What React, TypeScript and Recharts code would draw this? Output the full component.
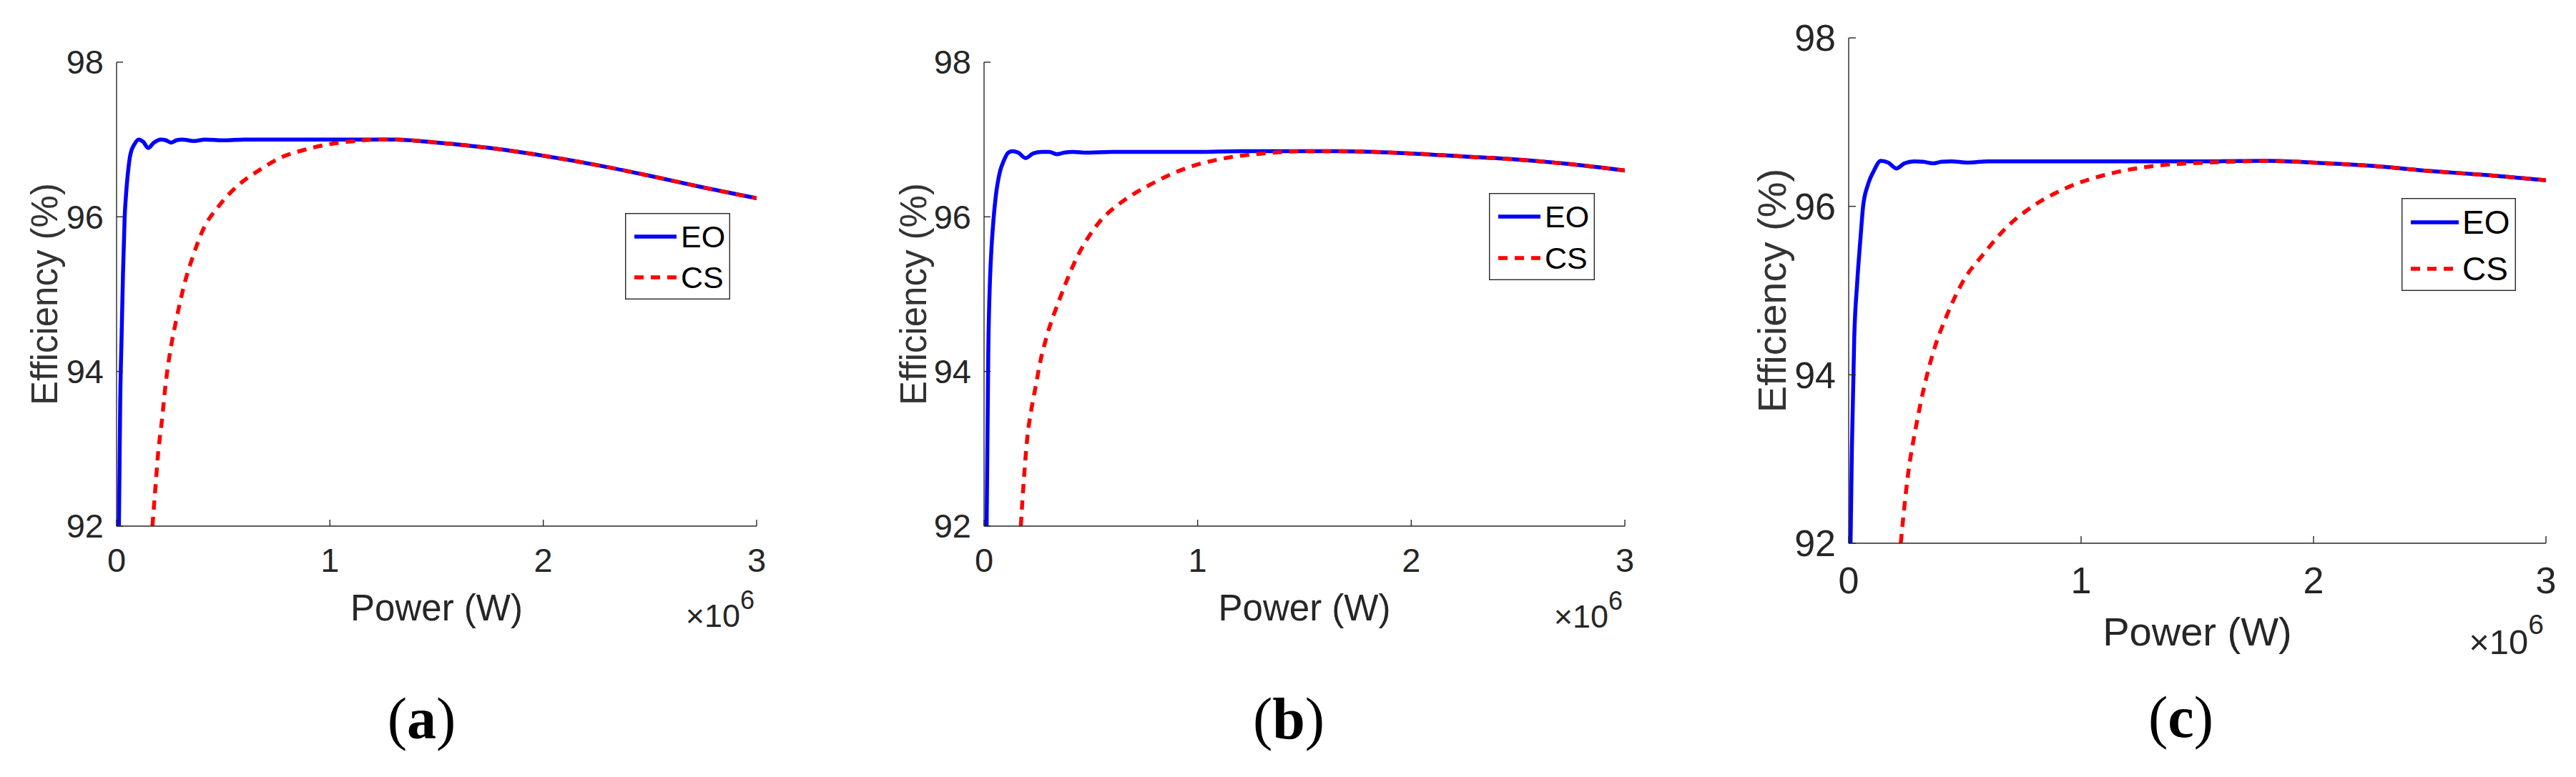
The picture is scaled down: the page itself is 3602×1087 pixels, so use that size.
import React from 'react';
import { LineChart, Line, XAxis, YAxis, Legend, Label } from 'recharts';

// Power in units of 10^6 W, efficiency in %
const eoPowerA = [0.011, 0.017, 0.024, 0.03, 0.038, 0.045, 0.056, 0.065, 0.084, 0.104, 0.125, 0.148, 0.175, 0.207, 0.232, 0.255, 0.28, 0.308, 0.336, 0.364, 0.414, 0.5, 0.6, 0.8, 1.0, 1.2, 1.3, 1.5, 1.75, 2.0, 2.25, 2.5, 2.75, 3.0];
const eoEffA = [92.0, 93.6, 94.5, 95.26, 96.0, 96.31, 96.64, 96.81, 96.94, 97.0, 96.97, 96.89, 96.96, 97.0, 96.99, 96.96, 96.99, 97.0, 96.99, 96.98, 97.0, 96.99, 97.0, 97.0, 97.0, 97.0, 97.0, 96.96, 96.89, 96.79, 96.67, 96.53, 96.38, 96.24];
const csPowerA = [0.168, 0.181, 0.194, 0.213, 0.23, 0.252, 0.28, 0.314, 0.358, 0.403, 0.482, 0.571, 0.672, 0.773, 0.885, 0.997, 1.12, 1.22, 1.3, 1.5, 1.75, 2.0, 2.25, 2.5, 2.75, 3.0];
const csEffA = [92.0, 92.46, 92.92, 93.38, 93.84, 94.27, 94.67, 95.09, 95.49, 95.82, 96.15, 96.41, 96.61, 96.77, 96.87, 96.94, 96.98, 97.0, 97.0, 96.96, 96.89, 96.79, 96.67, 96.53, 96.38, 96.24];

const eoPowerB = [0.012, 0.02, 0.028, 0.036, 0.044, 0.055, 0.074, 0.093, 0.113, 0.131, 0.16, 0.195, 0.23, 0.27, 0.305, 0.34, 0.375, 0.415, 0.48, 0.6, 0.8, 1.0, 1.2, 1.4, 1.65, 2.0, 2.25, 2.5, 2.75, 3.0];
const eoEffB = [92.0, 94.3, 95.2, 95.65, 95.96, 96.27, 96.58, 96.73, 96.83, 96.85, 96.83, 96.76, 96.82, 96.84, 96.84, 96.81, 96.83, 96.84, 96.83, 96.84, 96.84, 96.84, 96.85, 96.85, 96.85, 96.82, 96.78, 96.74, 96.68, 96.6];
const csPowerB = [0.172, 0.185, 0.203, 0.221, 0.241, 0.265, 0.292, 0.357, 0.434, 0.536, 0.639, 0.767, 0.947, 1.152, 1.357, 1.5, 1.65, 2.0, 2.25, 2.5, 2.75, 3.0];
const csEffB = [92.0, 92.55, 93.16, 93.5, 93.8, 94.15, 94.44, 94.96, 95.47, 95.92, 96.18, 96.4, 96.63, 96.77, 96.83, 96.85, 96.85, 96.82, 96.78, 96.74, 96.68, 96.6];

const eoPowerC = [0.008, 0.014, 0.024, 0.036, 0.051, 0.062, 0.082, 0.108, 0.138, 0.17, 0.205, 0.24, 0.282, 0.32, 0.364, 0.4, 0.44, 0.513, 0.6, 0.8, 1.0, 1.3, 1.6, 1.8, 2.0, 2.25, 2.5, 2.75, 3.0];
const eoEffC = [92.0, 93.16, 94.45, 95.07, 95.63, 96.0, 96.25, 96.42, 96.54, 96.52, 96.45, 96.51, 96.535, 96.53, 96.51, 96.53, 96.535, 96.52, 96.535, 96.535, 96.535, 96.535, 96.535, 96.54, 96.52, 96.48, 96.42, 96.37, 96.31];
const csPowerC = [0.224, 0.255, 0.29, 0.325, 0.372, 0.42, 0.49, 0.585, 0.679, 0.797, 0.938, 1.127, 1.316, 1.551, 1.7, 1.8, 2.0, 2.25, 2.5, 2.75, 3.0];
const csEffC = [92.0, 92.81, 93.39, 93.86, 94.34, 94.69, 95.1, 95.45, 95.75, 96.01, 96.22, 96.39, 96.48, 96.52, 96.535, 96.54, 96.52, 96.48, 96.42, 96.37, 96.31];

const powerTicks = [0, 1, 2, 3];
const effTicks = [92, 94, 96, 98];
const seriesNames = ['EO', 'CS'];
const seriesColors = ['#0000ff', '#ff0000'];
const seriesDash = [undefined, '13 10'];

const INK = '#262626';
const SANS = '"Liberation Sans", Arial, Helvetica, sans-serif';
const SERIF = '"Liberation Serif", "Times New Roman", serif';
const CHART_H = 1087;
const LINE_W = 5.5;

function zip(p: number[], e: number[]) {
  return p.map((x, i) => ({ p: x, e: e[i] }));
}

interface LegendBox {
  left: number; top: number; w: number; h: number;
  lineX1: number; lineX2: number; textX: number; rows: number[]; font: number;
}

interface Panel {
  letter: string;
  eo: { p: number; e: number }[];
  cs: { p: number; e: number }[];
  left: number; width: number; top: number;
  plotLeft: number; plotRight: number; bottom: number;
  tickFont: number; titleFont: number; expFont: number; supFont: number; supDy: number;
  tickLen: number; yTitleOff: number; xTitleDy: number; expDy: number; xTickDy: number;
  legend: LegendBox;
  captionDx: number; captionY: number;
}

const panels: Panel[] = [
  {
    letter: 'a', eo: zip(eoPowerA, eoEffA), cs: zip(csPowerA, csEffA),
    left: 0, width: 1200, top: 87, plotLeft: 163, plotRight: 1058, bottom: 736,
    tickFont: 47, titleFont: 51, expFont: 45, supFont: 36, supDy: -25,
    tickLen: 9, yTitleOff: 101, xTitleDy: 132, expDy: 141, xTickDy: 64,
    legend: { left: 874, top: 298, w: 147, h: 121, lineX1: 13, lineX2: 72, textX: 78, rows: [33, 90], font: 43 },
    captionDx: -21, captionY: 1033,
  },
  {
    letter: 'b', eo: zip(eoPowerB, eoEffB), cs: zip(csPowerB, csEffB),
    left: 1200, width: 1200, top: 87, plotLeft: 176, plotRight: 1072, bottom: 736,
    tickFont: 47, titleFont: 51, expFont: 45, supFont: 36, supDy: -25,
    tickLen: 9, yTitleOff: 99, xTitleDy: 132, expDy: 142, xTickDy: 64,
    legend: { left: 882, top: 270, w: 148, h: 122, lineX1: 13, lineX2: 72, textX: 78, rows: [33, 91], font: 43 },
    captionDx: -22, captionY: 1033,
  },
  {
    letter: 'c', eo: zip(eoPowerC, eoEffC), cs: zip(csPowerC, csEffC),
    left: 2400, width: 1202, top: 53, plotLeft: 185, plotRight: 1160, bottom: 760,
    tickFont: 52, titleFont: 56, expFont: 49, supFont: 39, supDy: -28,
    tickLen: 10, yTitleOff: 108, xTitleDy: 143, expDy: 155, xTickDy: 70,
    legend: { left: 958, top: 277, w: 160, h: 130, lineX1: 13, lineX2: 80, textX: 85, rows: [34, 99], font: 46 },
    captionDx: -23, captionY: 1031,
  },
];

function EfficiencyPanel({ panel }: { panel: Panel }) {
  const lg = panel.legend;

  const yTick = (props: any) => (
    <g>
      <line x1={props.x} x2={props.x + panel.tickLen} y1={props.y} y2={props.y} stroke={INK} strokeWidth={1.4} />
      <text x={props.x - 18} y={props.y} dy="0.35em" textAnchor="end" fontFamily={SANS} fontSize={panel.tickFont} fill={INK}>
        {props.payload.value}
      </text>
    </g>
  );

  const xTick = (props: any) => (
    <g>
      <line x1={props.x} x2={props.x} y1={props.y} y2={props.y - panel.tickLen} stroke={INK} strokeWidth={1.4} />
      <text x={props.x} y={props.y + panel.xTickDy} textAnchor="middle" fontFamily={SANS} fontSize={panel.tickFont} fill={INK}>
        {props.payload.value}
      </text>
    </g>
  );

  const xTitle = (props: any) => {
    const vb = props.viewBox;
    const cx = vb.x + vb.width / 2;
    const right = vb.x + vb.width;
    return (
      <g>
        <text x={cx} y={vb.y + panel.xTitleDy} textAnchor="middle" fontFamily={SANS} fontSize={panel.titleFont} fill={INK}>
          Power (W)
        </text>
        <text x={right - 3} y={vb.y + panel.expDy} textAnchor="end" fontFamily={SANS} fontSize={panel.expFont} fill={INK}>
          ×10<tspan dy={panel.supDy} fontSize={panel.supFont}>6</tspan>
        </text>
        <text x={cx + panel.captionDx} y={panel.captionY} textAnchor="middle" fontFamily={SERIF} fontSize={82} fill="#000">
          (<tspan fontWeight="bold">{panel.letter}</tspan>)
        </text>
      </g>
    );
  };

  const yTitle = (props: any) => {
    const vb = props.viewBox;
    const cx = vb.x + vb.width - panel.yTitleOff;
    const cy = vb.y + vb.height / 2;
    return (
      <text x={cx} y={cy} dy="0.35em" transform={`rotate(-90, ${cx}, ${cy})`} textAnchor="middle" fontFamily={SANS} fontSize={panel.titleFont} fill="#333">
        Efficiency (%)
      </text>
    );
  };

  // keep the legend in plot order (EO, CS) whatever order recharts hands over
  const legendContent = (props: any) => {
    const payload = [...(props.payload || [])].sort(
      (a: any, b: any) => seriesNames.indexOf(a.value) - seriesNames.indexOf(b.value),
    );
    return (
      <svg width={lg.w} height={lg.h} style={{ display: 'block' }}>
        <rect x={0.7} y={0.7} width={lg.w - 1.4} height={lg.h - 1.4} fill="#fff" stroke={INK} strokeWidth={1.4} />
        {payload.map((entry: any, i: number) => {
          const idx = seriesNames.indexOf(entry.value);
          const y = lg.rows[i];
          return (
            <g key={entry.value}>
              <line x1={lg.lineX1} x2={lg.lineX2} y1={y} y2={y} stroke={seriesColors[idx]} strokeWidth={LINE_W} strokeDasharray={seriesDash[idx]} />
              <text x={lg.textX} y={y} dy="0.35em" fontFamily={SANS} fontSize={lg.font} fill="#000">
                {entry.value}
              </text>
            </g>
          );
        })}
      </svg>
    );
  };

  return (
    <div style={{ position: 'absolute', left: panel.left, top: 0, width: panel.width, height: CHART_H }}>
      <LineChart
        width={panel.width}
        height={CHART_H}
        margin={{ top: panel.top, right: panel.width - panel.plotRight, bottom: 0, left: 0 }}
      >
        <XAxis
          dataKey="p"
          type="number"
          domain={[0, 3]}
          ticks={powerTicks}
          allowDataOverflow
          height={CHART_H - panel.bottom}
          tickSize={0}
          tickMargin={0}
          tick={xTick}
          axisLine={{ stroke: INK, strokeWidth: 1.4 }}
          interval={0}
        >
          <Label content={xTitle} />
        </XAxis>
        <YAxis
          type="number"
          domain={[92, 98]}
          ticks={effTicks}
          allowDataOverflow
          width={panel.plotLeft}
          tickSize={0}
          tickMargin={0}
          tick={yTick}
          axisLine={{ stroke: INK, strokeWidth: 1.4 }}
          interval={0}
        >
          <Label content={yTitle} />
        </YAxis>
        <Legend
          layout="vertical"
          align="center"
          verticalAlign="middle"
          content={legendContent}
          wrapperStyle={{ position: 'absolute', left: lg.left, top: lg.top, width: lg.w, height: lg.h }}
        />
        <Line
          data={panel.eo}
          dataKey="e"
          name={seriesNames[0]}
          type="monotone"
          stroke={seriesColors[0]}
          strokeWidth={LINE_W}
          dot={false}
          activeDot={false}
          isAnimationActive={false}
        />
        <Line
          data={panel.cs}
          dataKey="e"
          name={seriesNames[1]}
          type="monotone"
          stroke={seriesColors[1]}
          strokeWidth={LINE_W}
          strokeDasharray={seriesDash[1]}
          dot={false}
          activeDot={false}
          isAnimationActive={false}
        />
      </LineChart>
    </div>
  );
}

export default function App() {
  return (
    <div style={{ position: 'absolute', left: 0, top: 0, width: 3602, height: CHART_H, background: '#fff' }}>
      {panels.map((panel) => (
        <EfficiencyPanel key={panel.letter} panel={panel} />
      ))}
    </div>
  );
}
